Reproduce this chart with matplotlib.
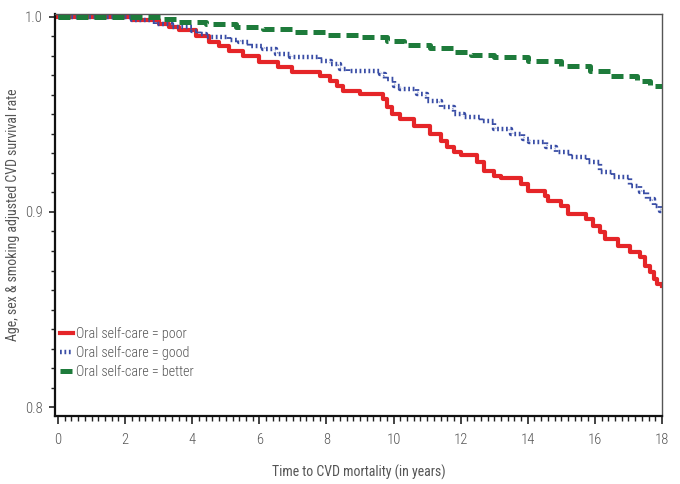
import matplotlib
matplotlib.use("Agg")
import matplotlib.pyplot as plt
from matplotlib.ticker import MultipleLocator

# ---- data ----
poor_t = [0, 2.2, 3.0, 3.3, 3.6, 4.1, 4.5, 4.8, 5.1, 5.5, 6.0, 6.55, 6.97, 7.8, 8.1, 8.3, 8.5,
          9.0, 9.7, 9.8, 9.95, 10.2, 10.6, 11.1, 11.4, 11.6, 11.8, 12.0, 12.5, 12.7, 13.0, 13.2,
          13.8, 14.0, 14.5, 14.6, 15.0, 15.2, 15.75, 15.95, 16.15, 16.3, 16.7, 17.05, 17.35,
          17.5, 17.65, 17.75, 17.85, 18.0]
poor_s = [1.0, 0.9985, 0.9964, 0.9949, 0.9933, 0.9903, 0.9872, 0.9851, 0.9826, 0.980, 0.9769,
          0.9744, 0.9718, 0.9697, 0.9672, 0.9646, 0.9621, 0.9605, 0.958, 0.9538, 0.9503, 0.9477,
          0.9441, 0.940, 0.9364, 0.9333, 0.9308, 0.929, 0.9256, 0.921, 0.9185, 0.9174, 0.9144,
          0.9108, 0.9082, 0.9056, 0.9031, 0.899, 0.8964, 0.8928, 0.8897, 0.8862, 0.8826, 0.8795,
          0.8769, 0.8723, 0.8692, 0.8656, 0.8631, 0.862]

good_t = [0, 2.2, 2.9, 3.4, 4.0, 4.2, 4.4, 5.1, 5.4, 5.7, 6.1, 6.5, 6.9, 7.8, 8.15, 8.4, 8.65,
          9.6, 9.75, 10.0, 10.2, 10.7, 11.0, 11.4, 11.8, 12.1, 12.6, 13.0, 13.5, 13.85, 14.05,
          14.55, 14.85, 15.25, 15.8, 16.15, 16.55, 17.05, 17.35, 17.55, 17.75, 17.95, 18.0]
good_s = [1.0, 0.9985, 0.9964, 0.9949, 0.9928, 0.9913, 0.9897, 0.9882, 0.9872, 0.9851, 0.9836,
          0.981, 0.9795, 0.9774, 0.9759, 0.9733, 0.9723, 0.9708, 0.9682, 0.9646, 0.9631, 0.9605,
          0.9569, 0.9538, 0.9503, 0.9487, 0.9467, 0.9426, 0.940, 0.9374, 0.9359, 0.9333, 0.9308,
          0.9282, 0.9256, 0.9205, 0.9179, 0.9133, 0.9103, 0.9067, 0.9031, 0.9005, 0.900]

better_t = [0, 3.1, 3.6, 4.4, 5.3, 6.1, 7.0, 8.0, 9.0, 9.8, 10.3, 11.1, 11.8, 12.3, 13.0, 14.0,
            15.0, 15.85, 16.45, 17.25, 17.65, 18.0]
better_s = [1.0, 0.999, 0.9974, 0.9964, 0.9949, 0.9936, 0.9923, 0.9908, 0.9897, 0.9877, 0.9856,
            0.9841, 0.9821, 0.9805, 0.9795, 0.9774, 0.9749, 0.9723, 0.9697, 0.9672, 0.9646, 0.9636]

labels = ["Oral self-care = poor", "Oral self-care = good", "Oral self-care = better"]
x_ticks = [0, 2, 4, 6, 8, 10, 12, 14, 16, 18]
y_ticks = [0.8, 0.9, 1.0]

plt.rcParams['font.family'] = ['Roboto Condensed', 'PT Sans Narrow', 'Lato', 'DejaVu Sans']
plt.rcParams['font.weight'] = 'light'

fig = plt.figure(figsize=(6.8, 4.84), dpi=100)
ax = fig.add_axes([0.0809, 0.1405, 0.8926, 0.8305])

ax.plot(better_t, better_s, drawstyle='steps-post', color='#1e7b3b', lw=3.6,
        linestyle=(0, (2.4, 1.2)), label=labels[2], zorder=3)
ax.plot(good_t, good_s, drawstyle='steps-post', color='#3a4ea6', lw=3.2,
        linestyle=(0, (0.4, 0.6)), label=labels[1], zorder=2)
ax.plot(poor_t, poor_s, drawstyle='steps-post', color='#e52528', lw=3.0,
        label=labels[0], zorder=1)

ax.set_xlim(-0.09, 18.0)
ax.set_ylim(0.7954, 1.0015)
ax.set_xticks(x_ticks)
ax.set_yticks(y_ticks)
ax.set_yticklabels([f"{v:.1f}" for v in y_ticks])
ax.xaxis.set_minor_locator(MultipleLocator(0.2))
ax.yaxis.set_minor_locator(MultipleLocator(0.01))
ax.tick_params(axis='both', which='major', direction='out', length=6, width=1.2,
               labelsize=10.5, labelcolor='#555555', color='#222222')
ax.tick_params(axis='both', which='minor', direction='out', length=3.5, width=1.0,
               color='#222222')
ax.tick_params(axis='y', which='major', length=4, pad=5)
ax.tick_params(axis='y', which='minor', length=3)
ax.tick_params(axis='x', which='major', pad=6)

for s in ['left', 'bottom']:
    ax.spines[s].set_linewidth(1.6)
    ax.spines[s].set_color('#111111')
for s in ['top', 'right']:
    ax.spines[s].set_linewidth(1.0)
    ax.spines[s].set_color('#555555')

ax.set_xlabel("Time to CVD mortality (in years)", fontsize=10, color='#555555')
ax.set_ylabel("Age, sex & smoking adjusted CVD survival rate", fontsize=10, color='#555555')
ax.xaxis.set_label_coords(0.5, -0.122)
ax.yaxis.set_label_coords(-0.057, 0.5)

h, l = ax.get_legend_handles_labels()
order = [2, 1, 0]
leg = ax.legend([h[i] for i in order], [l[i] for i in order], loc='lower left',
                bbox_to_anchor=(-0.005, 0.07), frameon=False, fontsize=10.2,
                handlelength=0.9, handletextpad=0.2, labelspacing=0.38, borderaxespad=0.2,
                labelcolor='#555555')

fig.savefig("out.png", dpi=100)
